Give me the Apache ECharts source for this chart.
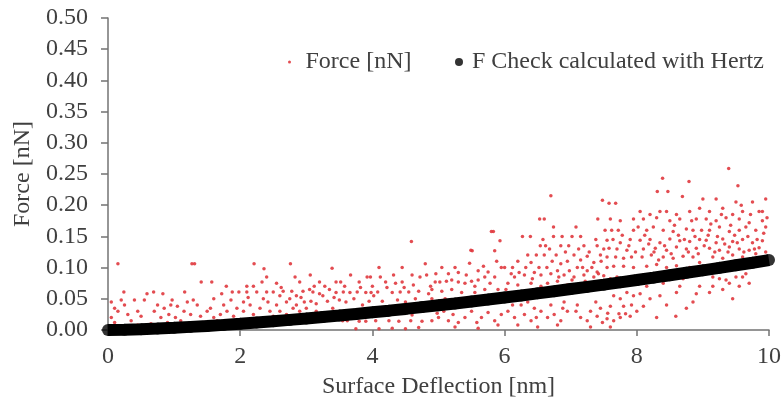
<!DOCTYPE html>
<html>
<head>
<meta charset="utf-8">
<script src="https://cdn.jsdelivr.net/npm/echarts@6/dist/echarts.min.js"></script>
<style>
html,body{margin:0;padding:0;background:#fff;overflow:hidden;}
#chart{width:784px;height:408px;}
</style>
</head>
<body>
<div id="chart"></div>
<script>
// X axis ticks and Y axis ticks
const xTicks = [0, 2, 4, 6, 8, 10];
const yTicks = [0, 0.05, 0.1, 0.15, 0.2, 0.25, 0.3, 0.35, 0.4, 0.45, 0.5];

const forcePoints = [
  [0.15,0.106],[0.05,0.02],[0.1,0.035],[0.2,0.048],[0.25,0.04],[0.24,0.061],[0.1,0.012],[0.3,0.025],[0.35,0.015],[0.4,0.048],
  [0.45,0.03],[0.5,0.022],[0.55,0.048],[0.59,0.058],[0.65,0.01],[0.69,0.061],[0.7,0.03],[0.8,0.02],[0.83,0.058],[0.85,0.035],
  [0.9,0.012],[0.95,0.04],[0.97,0.048],[0.3,0.005],[0.6,0.005],[0.15,0.03],[0.75,0.04],[0.05,0.045],[0.45,0.008],[0.92,0.025],
  [1.27,0.106],[1.31,0.106],[1.41,0.077],[1.57,0.077],[1.79,0.07],[1.16,0.061],[1.72,0.058],[1.88,0.061],[1.98,0.061],[1.29,0.048],
  [1.86,0.048],[1.05,0.038],[1.15,0.03],[1.25,0.025],[1.35,0.04],[1.4,0.022],[1.5,0.03],[1.55,0.035],[1.6,0.02],[1.7,0.025],
  [1.75,0.04],[1.8,0.03],[1.9,0.022],[1.95,0.035],[1.1,0.015],[1.45,0.012],[1.65,0.015],[1.2,0.045],[1.6,0.05],[1.02,0.02],[1.85,0.015],
  [2.21,0.106],[2.36,0.098],[2.33,0.077],[2.4,0.085],[2.1,0.07],[2.2,0.07],[2.1,0.061],[2.25,0.061],[2.4,0.061],[2.5,0.061],
  [2.76,0.106],[2.83,0.085],[2.9,0.077],[2.6,0.055],[2.65,0.062],[2.7,0.045],[2.75,0.05],[2.85,0.04],[2.95,0.062],[2.05,0.045],
  [2.15,0.04],[2.3,0.035],[2.45,0.03],[2.55,0.04],[2.6,0.03],[2.7,0.025],[2.8,0.035],[2.9,0.03],[2.97,0.045],[2.2,0.025],
  [2.5,0.022],[2.35,0.05],[2.05,0.03],[2.65,0.02],[2.85,0.055],[2.55,0.075],[2.25,0.015],[2.95,0.02],
  [2.12,0.052],[2.42,0.045],[2.62,0.068],[2.78,0.062],[2.92,0.052],
  [3.06,0.088],[3.39,0.099],[3.67,0.088],[3.97,0.085],[3.2,0.077],[3.45,0.077],[3.52,0.077],[3.8,0.077],[3.1,0.061],[3.2,0.058],
  [3.25,0.055],[3.05,0.065],[3.56,0.061],[3.66,0.06],[3.77,0.061],[3.9,0.06],[3.98,0.06],[3.07,0.046],[3.15,0.042],[3.32,0.046],
  [3.5,0.048],[3.6,0.045],[3.85,0.04],[3.95,0.046],[3.4,0.035],[3.7,0.03],[3.55,0.015],[3.62,0.015],[3.8,0.014],[3.85,0.026],
  [3.9,0.014],[3.75,0.002],[3.3,0.025],[3.0,0.035],[3.45,0.06],[3.15,0.03],[3.35,0.065],[3.72,0.05],
  [3.12,0.07],[3.28,0.07],[3.42,0.052],[3.58,0.07],[3.82,0.068],[3.92,0.085],
  [4.59,0.142],[4.32,0.088],[4.6,0.088],[4.8,0.106],[4.82,0.088],[4.1,0.1],[4.2,0.077],[4.45,0.077],[4.95,0.077],[4.08,0.061],
  [4.3,0.06],[4.42,0.061],[4.55,0.061],[4.7,0.062],[4.85,0.058],[4.15,0.046],[4.38,0.048],[4.5,0.045],[4.65,0.05],[4.9,0.05],
  [4.05,0.015],[4.25,0.015],[4.4,0.014],[4.58,0.015],[4.75,0.014],[4.9,0.015],[4.1,0.002],[4.3,0.003],[4.5,0.002],[4.7,0.004],
  [4.2,0.025],[4.6,0.024],[4.98,0.027],[4.35,0.035],[4.75,0.03],[4.9,0.065],[4.45,0.1],[4.0,0.07],
  [4.02,0.055],[4.12,0.085],[4.22,0.068],[4.35,0.075],[4.48,0.068],[4.62,0.072],[4.72,0.085],[4.88,0.07],[4.96,0.09],
  [5.02,0.077],[5.12,0.078],[5.2,0.08],[5.3,0.077],[5.4,0.075],[5.5,0.078],[5.6,0.08],[5.7,0.085],[5.85,0.085],[5.47,0.107],
  [5.49,0.128],[5.51,0.127],[5.8,0.158],[5.83,0.158],[5.93,0.143],[5.85,0.127],[5.95,0.1],[5.15,0.09],[5.3,0.092],[5.6,0.095],
  [5.75,0.093],[5.05,0.062],[5.2,0.065],[5.35,0.06],[5.55,0.06],[5.7,0.065],[5.9,0.065],[5.1,0.05],[5.45,0.05],[5.8,0.055],
  [5.0,0.02],[5.08,0.03],[5.15,0.015],[5.22,0.025],[5.3,0.012],[5.4,0.02],[5.5,0.03],[5.58,0.012],[5.65,0.02],[5.75,0.028],
  [5.85,0.015],[5.95,0.025],[5.25,0.005],[5.6,0.003],[5.9,0.008],[5.35,0.04],[5.65,0.045],
  [5.05,0.1],[5.25,0.1],[5.42,0.088],[5.55,0.07],[5.68,0.102],[5.78,0.075],[5.88,0.11],
  [6.7,0.215],[6.53,0.178],[6.6,0.178],[6.27,0.15],[6.39,0.15],[6.74,0.15],[6.87,0.15],[6.74,0.165],[6.54,0.135],[6.62,0.135],
  [6.85,0.135],[6.97,0.135],[6.1,0.09],[6.0,0.1],[6.2,0.11],[6.35,0.12],[6.4,0.108],[6.6,0.12],[6.72,0.11],[6.85,0.106],
  [6.95,0.11],[6.15,0.085],[6.3,0.088],[6.45,0.092],[6.55,0.088],[6.7,0.09],[6.8,0.095],[6.9,0.088],[6.05,0.075],[6.2,0.072],
  [6.4,0.075],[6.55,0.07],[6.65,0.075],[6.8,0.078],[6.95,0.072],[6.3,0.06],[6.6,0.063],[6.25,0.04],[6.45,0.035],[6.7,0.04],
  [6.9,0.045],[6.05,0.03],[6.15,0.02],[6.3,0.025],[6.4,0.015],[6.55,0.03],[6.65,0.02],[6.75,0.025],[6.85,0.015],[6.95,0.03],
  [6.2,0.008],[6.5,0.005],[6.8,0.008],[6.35,0.045],[6.1,0.058],
  [6.02,0.065],[6.12,0.1],[6.22,0.092],[6.32,0.1],[6.42,0.082],[6.48,0.12],[6.52,0.1],[6.58,0.145],[6.64,0.1],[6.68,0.13],
  [6.78,0.12],[6.82,0.085],[6.92,0.125],[6.98,0.095],[6.12,0.04],[6.48,0.02],[6.88,0.035],
  [7.41,0.178],[7.48,0.208],[7.08,0.165],[7.02,0.15],[7.15,0.15],[7.2,0.135],[7.4,0.135],[7.58,0.203],[7.68,0.203],[7.6,0.178],
  [7.75,0.175],[7.95,0.178],[7.62,0.16],[7.72,0.16],[7.95,0.16],[7.05,0.12],[7.15,0.112],[7.25,0.118],[7.35,0.108],[7.45,0.12],
  [7.55,0.144],[7.75,0.14],[7.9,0.145],[7.58,0.131],[7.7,0.13],[7.85,0.128],[7.55,0.117],[7.68,0.117],[7.8,0.115],[7.92,0.117],
  [7.1,0.1],[7.25,0.095],[7.4,0.093],[7.55,0.1],[7.65,0.102],[7.8,0.102],[7.95,0.1],[7.05,0.085],[7.2,0.088],[7.35,0.085],
  [7.5,0.087],[7.7,0.085],[7.05,0.07],[7.3,0.075],[7.6,0.082],[7.65,0.055],[7.75,0.05],[7.85,0.06],[7.95,0.055],[7.1,0.04],
  [7.3,0.03],[7.45,0.035],[7.6,0.038],[7.8,0.038],[7.15,0.02],[7.25,0.015],[7.4,0.022],[7.55,0.018],[7.65,0.015],[7.75,0.02],
  [7.9,0.022],[7.6,0.005],[7.3,0.005],[7.56,0.027],[7.73,0.026],[7.83,0.026],
  [7.02,0.08],[7.12,0.13],[7.18,0.1],[7.22,0.078],[7.28,0.125],[7.32,0.1],[7.38,0.145],[7.42,0.09],[7.46,0.11],[7.5,0.13],
  [7.08,0.03],[7.38,0.045],[7.48,0.012],[7.92,0.04],
  [7.52,0.16],[7.64,0.145],[7.78,0.152],[7.88,0.135],[7.98,0.125],
  [8.39,0.243],[8.79,0.238],[8.31,0.222],[8.47,0.222],[8.69,0.214],[9.0,0.21],[8.05,0.19],[8.2,0.185],[8.35,0.19],[8.45,0.19],
  [8.6,0.185],[8.8,0.19],[8.95,0.195],[8.1,0.178],[8.3,0.18],[8.5,0.175],[8.65,0.178],[8.9,0.178],[8.15,0.16],[8.25,0.165],
  [8.4,0.16],[8.55,0.158],[8.75,0.162],[8.85,0.16],[8.05,0.144],[8.2,0.145],[8.35,0.14],[8.5,0.146],[8.65,0.143],[8.8,0.142],
  [8.95,0.145],[8.1,0.13],[8.28,0.131],[8.45,0.128],[8.6,0.133],[8.75,0.13],[8.9,0.131],[8.08,0.117],[8.22,0.12],[8.4,0.117],
  [8.55,0.115],[8.7,0.118],[8.85,0.117],[8.15,0.102],[8.3,0.105],[8.45,0.1],[8.6,0.103],[8.8,0.1],[8.95,0.108],[8.1,0.088],
  [8.5,0.085],[8.7,0.082],[8.05,0.058],[8.2,0.05],[8.35,0.055],[8.6,0.06],[8.9,0.058],[8.1,0.038],[8.45,0.04],[8.75,0.035],
  [8.59,0.022],[8.3,0.02],[8.95,0.07],[8.0,0.03],
  [8.02,0.165],[8.12,0.152],[8.18,0.138],[8.26,0.125],[8.33,0.112],[8.42,0.135],[8.52,0.122],[8.57,0.168],[8.63,0.152],[8.72,0.145],
  [8.78,0.125],[8.83,0.175],[8.88,0.15],[8.93,0.122],[8.98,0.16],[8.15,0.07],[8.4,0.075],[8.65,0.07],[8.85,0.045],
  [9.39,0.259],[9.53,0.231],[9.2,0.21],[9.5,0.205],[9.75,0.205],[9.1,0.19],[9.3,0.195],[9.45,0.185],[9.6,0.19],[9.85,0.19],
  [9.05,0.178],[9.2,0.175],[9.35,0.18],[9.55,0.178],[9.7,0.172],[9.9,0.175],[9.1,0.16],[9.25,0.165],[9.4,0.158],[9.55,0.16],
  [9.65,0.165],[9.8,0.16],[9.95,0.165],[9.05,0.144],[9.2,0.14],[9.3,0.146],[9.45,0.142],[9.6,0.145],[9.75,0.14],[9.9,0.143],
  [9.1,0.131],[9.25,0.128],[9.4,0.133],[9.55,0.13],[9.7,0.128],[9.85,0.132],[9.15,0.117],[9.3,0.115],[9.45,0.12],[9.6,0.117],
  [9.8,0.122],[9.95,0.125],[9.05,0.1],[9.2,0.105],[9.35,0.098],[9.5,0.085],[9.65,0.09],[9.25,0.082],[9.4,0.075],[9.1,0.06],
  [9.3,0.065],[9.55,0.07],[9.45,0.05],[9.15,0.085],[9.95,0.21],[9.9,0.19],
  [9.02,0.135],[9.08,0.152],[9.12,0.17],[9.18,0.125],[9.22,0.15],[9.28,0.185],[9.33,0.138],[9.38,0.125],[9.42,0.168],[9.48,0.152],
  [9.52,0.14],[9.58,0.2],[9.62,0.125],[9.68,0.15],[9.72,0.185],[9.78,0.13],[9.82,0.145],[9.88,0.11],[9.92,0.155],[9.97,0.18],
  [9.15,0.07],[9.35,0.08],[9.6,0.085],[9.7,0.075]
];

// F check calculated with Hertz (read along the black band)
const hertzX = [0,0.25,0.5,0.75,1,1.25,1.5,1.75,2,2.25,2.5,2.75,3,3.25,3.5,3.75,4,4.25,4.5,4.75,5,
  5.25,5.5,5.75,6,6.25,6.5,6.75,7,7.25,7.5,7.75,8,8.25,8.5,8.75,9,9.25,9.5,9.75,10];
const hertzF = [0,0.0004,0.0013,0.0023,0.0035,0.0050,0.0065,0.0082,0.0100,0.0120,0.0140,0.0162,0.0184,0.0208,0.0232,0.0257,0.0283,
  0.0310,0.0338,0.0367,0.0396,0.0426,0.0457,0.0488,0.0521,0.0553,0.0587,0.0621,0.0656,0.0691,0.0727,0.0764,0.0801,0.0839,0.0878,
  0.0917,0.0956,0.0996,0.1037,0.1078,0.1120];

const hertzPoints = hertzX.map((x, i) => [x, hertzF[i]]);

const FONT = 'Liberation Serif';
const TXT = '#404040';
const AX = '#737373';

const chart = echarts.init(document.getElementById('chart'), null, {renderer: 'canvas'});
chart.setOption({
  animation: false,
  backgroundColor: '#ffffff',
  grid: {left: 108, right: 14, top: 18, bottom: 78, containLabel: false},
  legend: [
    {
      data: [{name: 'Force [nN]', icon: 'circle'}],
      left: 288, top: 50, padding: 0,
      itemWidth: 22, itemHeight: 3,
      textStyle: {fontFamily: FONT, fontSize: 24, color: TXT}
    },
    {
      data: [{name: 'F Check calculated with Hertz', icon: 'circle'}],
      left: 455, top: 50, padding: 0,
      itemWidth: 16, itemHeight: 8,
      textStyle: {fontFamily: FONT, fontSize: 24, color: TXT}
    }
  ],
  xAxis: {
    type: 'value', min: xTicks[0], max: xTicks[xTicks.length - 1], interval: 2,
    name: 'Surface Deflection [nm]', nameLocation: 'middle', nameGap: 45,
    nameTextStyle: {fontFamily: FONT, fontSize: 24, color: TXT},
    axisLine: {show: true, lineStyle: {color: AX, width: 1.5}},
    axisTick: {show: true, inside: false, length: 6, lineStyle: {color: AX, width: 1.5}},
    axisLabel: {fontFamily: FONT, fontSize: 24, color: TXT, margin: 15},
    splitLine: {show: false}
  },
  yAxis: {
    type: 'value', min: yTicks[0], max: yTicks[yTicks.length - 1], interval: 0.05,
    name: 'Force [nN]', nameLocation: 'middle', nameGap: 72,
    nameTextStyle: {fontFamily: FONT, fontSize: 24, color: TXT},
    axisLine: {show: true, lineStyle: {color: AX, width: 1.5}},
    axisTick: {show: true, inside: false, length: 7, lineStyle: {color: AX, width: 1.5}},
    axisLabel: {fontFamily: FONT, fontSize: 24, color: TXT, margin: 20,
      formatter: v => v.toFixed(2)},
    splitLine: {show: false}
  },
  series: [
    {
      name: 'Force [nN]', type: 'scatter', data: forcePoints,
      symbol: 'circle', symbolSize: 3.5,
      itemStyle: {color: '#e0393e', opacity: 0.9},
      z: 2
    },
    {
      name: 'hertzBand', type: 'line', data: hertzPoints,
      showSymbol: false, silent: true,
      lineStyle: {color: '#000', width: 12},
      z: 3
    },
    {
      name: 'F Check calculated with Hertz', type: 'scatter', data: hertzPoints,
      symbol: 'circle', symbolSize: 12,
      itemStyle: {color: '#000'},
      z: 4
    }
  ]
});
</script>
</body>
</html>
